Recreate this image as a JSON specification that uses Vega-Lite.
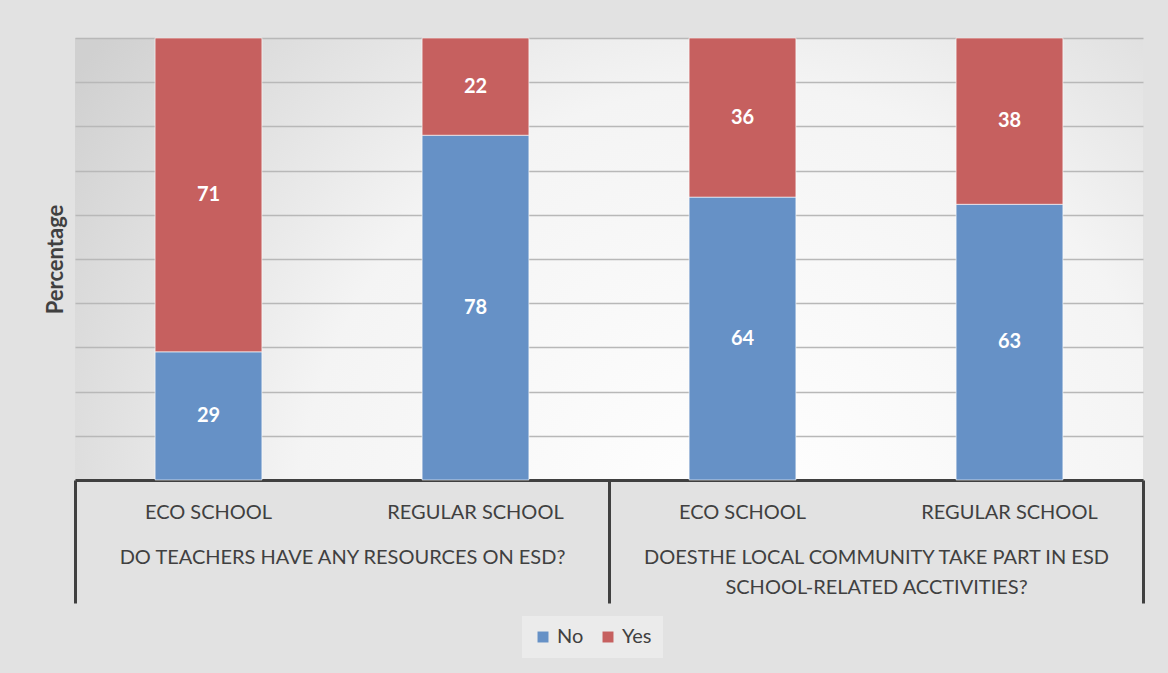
{
  "$schema": "https://vega.github.io/schema/vega-lite/v6.json",
  "autosize": {"type": "none"},
  "width": 1068,
  "height": 442,
  "padding": {"left": 75, "top": 38, "right": 25, "bottom": 193},
  "background": "#e2e2e2",
  "config": {
    "font": "Lato",
    "view": {
      "stroke": null,
      "fill": {
        "gradient": "radial",
        "x1": 0.62, "y1": 0.75, "r1": 0,
        "x2": 0.62, "y2": 0.75, "r2": 0.75,
        "stops": [
          {"offset": 0, "color": "#ffffff"},
          {"offset": 0.55, "color": "#f4f4f4"},
          {"offset": 1, "color": "#d0d0d0"}
        ]
      }
    }
  },
  "data": {
    "values": [
      {"bar": "1|ECO SCHOOL", "question": "DO TEACHERS HAVE ANY RESOURCES ON ESD?", "answer": "No", "value": 29},
      {"bar": "1|ECO SCHOOL", "question": "DO TEACHERS HAVE ANY RESOURCES ON ESD?", "answer": "Yes", "value": 71},
      {"bar": "2|REGULAR SCHOOL", "question": "DO TEACHERS HAVE ANY RESOURCES ON ESD?", "answer": "No", "value": 78},
      {"bar": "2|REGULAR SCHOOL", "question": "DO TEACHERS HAVE ANY RESOURCES ON ESD?", "answer": "Yes", "value": 22},
      {"bar": "3|ECO SCHOOL", "question": "DOESTHE LOCAL COMMUNITY TAKE PART IN ESD|SCHOOL-RELATED ACCTIVITIES?", "answer": "No", "value": 64},
      {"bar": "3|ECO SCHOOL", "question": "DOESTHE LOCAL COMMUNITY TAKE PART IN ESD|SCHOOL-RELATED ACCTIVITIES?", "answer": "Yes", "value": 36},
      {"bar": "4|REGULAR SCHOOL", "question": "DOESTHE LOCAL COMMUNITY TAKE PART IN ESD|SCHOOL-RELATED ACCTIVITIES?", "answer": "No", "value": 63},
      {"bar": "4|REGULAR SCHOOL", "question": "DOESTHE LOCAL COMMUNITY TAKE PART IN ESD|SCHOOL-RELATED ACCTIVITIES?", "answer": "Yes", "value": 38}
    ]
  },
  "layer": [
    {
      "layer": [
        {
          "mark": {"type": "bar", "stroke": "#ffffff", "strokeOpacity": 0.6, "strokeWidth": 1},
          "encoding": {
            "x": {
              "field": "bar", "type": "nominal", "sort": null,
              "scale": {"paddingInner": 0.6, "paddingOuter": 0.3},
              "axis": {
                "orient": "bottom", "title": null, "domain": false, "ticks": false,
                "labelAngle": 0, "labelExpr": "split(datum.label, '|')[1]",
                "labelFontSize": 20, "labelColor": "#404040", "labelPadding": 22,
                "grid": false
              }
            },
            "y": {
              "field": "value", "type": "quantitative", "stack": "normalize",
              "scale": {"domain": [0, 1]},
              "axis": {
                "title": "Percentage", "titleFontSize": 22, "titleFontWeight": "bold",
                "titleColor": "#404040", "titlePadding": 8,
                "labels": false, "ticks": false, "domain": false,
                "values": [0, 0.1, 0.2, 0.3, 0.4, 0.5, 0.6, 0.7, 0.8, 0.9, 1],
                "grid": true, "gridColor": "#b8b8b8", "gridWidth": 1.3
              }
            },
            "order": {"field": "answer", "sort": "ascending"},
            "color": {
              "field": "answer", "type": "nominal",
              "scale": {"domain": ["No", "Yes"], "range": ["#6691c6", "#c6605f"]},
              "legend": {
                "title": null, "orient": "none", "direction": "horizontal",
                "legendX": 447, "legendY": 578,
                "symbolType": "square", "symbolSize": 120, "symbolStrokeWidth": 0,
                "labelFontSize": 20, "labelColor": "#404040", "columnPadding": 14,
                "padding": 11, "fillColor": "rgba(255,255,255,0.3)"
              }
            }
          }
        },
        {
          "mark": {"type": "text", "color": "#ffffff", "fontWeight": "bold", "fontSize": 20, "baseline": "middle"},
          "encoding": {
            "x": {"field": "bar", "type": "nominal", "sort": null},
            "y": {"field": "value", "type": "quantitative", "stack": "normalize", "bandPosition": 0.5},
            "order": {"field": "answer", "sort": "ascending"},
            "detail": {"field": "answer"},
            "text": {"field": "value", "type": "quantitative"}
          }
        }
      ]
    },
    {
      "mark": {"type": "point", "opacity": 0},
      "encoding": {
        "x": {
          "field": "question", "type": "nominal", "sort": null,
          "scale": {"paddingInner": 0, "paddingOuter": 0},
          "axis": {
            "orient": "bottom", "title": null, "labels": false, "grid": false,
            "domain": true, "domainColor": "#404040", "domainWidth": 3,
            "ticks": true, "tickBand": "extent", "tickSize": 123, "tickWidth": 3, "tickColor": "#404040"
          }
        }
      }
    },
    {
      "mark": {"type": "point", "opacity": 0},
      "encoding": {
        "x": {
          "field": "question", "type": "nominal", "sort": null,
          "scale": {"paddingInner": 0, "paddingOuter": 0},
          "axis": {
            "orient": "bottom", "title": null, "domain": false, "ticks": false, "grid": false,
            "labelAngle": 0, "labelExpr": "split(datum.label, '|')",
            "labelFontSize": 20, "labelColor": "#404040", "labelPadding": 67,
            "labelLineHeight": 30, "labelLimit": 700
          }
        }
      }
    }
  ],
  "resolve": {"scale": {"x": "independent"}, "axis": {"x": "independent"}}
}
